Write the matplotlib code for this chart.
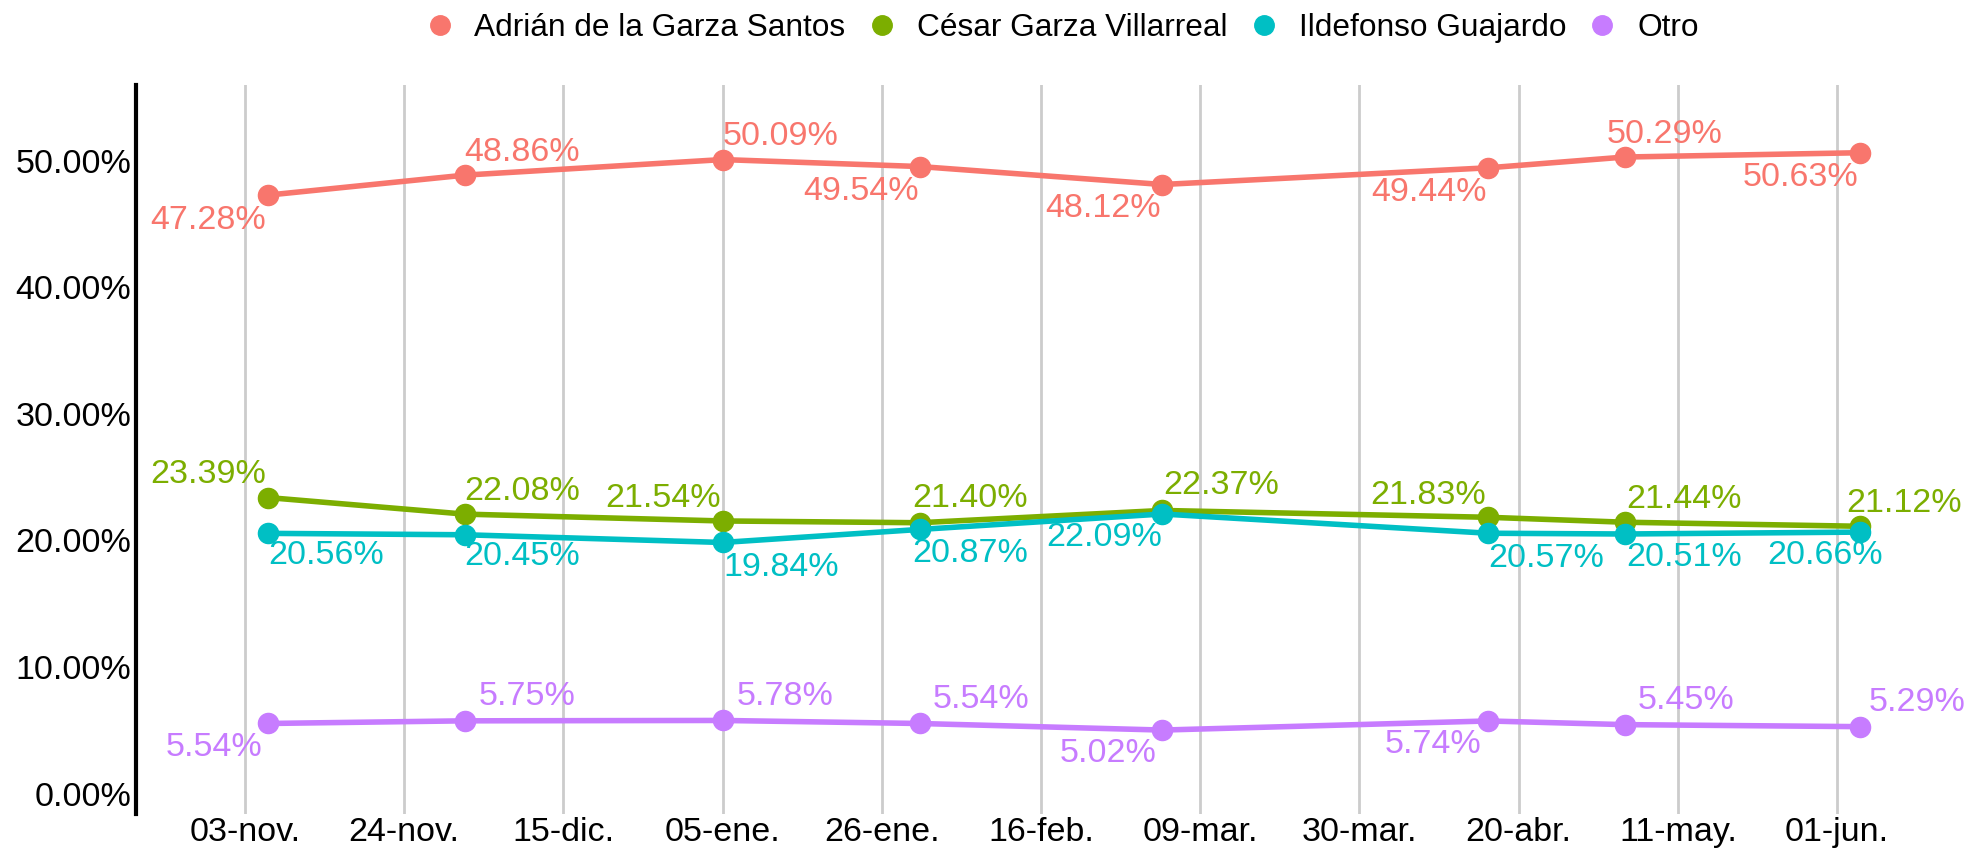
import matplotlib
matplotlib.use("Agg")
import matplotlib.pyplot as plt
from matplotlib.lines import Line2D
import datetime as dt

# ---- data ----
dates = ["2020-11-06", "2020-12-02", "2021-01-05", "2021-01-31",
         "2021-03-04", "2021-04-16", "2021-05-04", "2021-06-04"]
adrian = [47.28, 48.86, 50.09, 49.54, 48.12, 49.44, 50.29, 50.63]
cesar = [23.39, 22.08, 21.54, 21.40, 22.37, 21.83, 21.44, 21.12]
ildefonso = [20.56, 20.45, 19.84, 20.87, 22.09, 20.57, 20.51, 20.66]
otro = [5.54, 5.75, 5.78, 5.54, 5.02, 5.74, 5.45, 5.29]
series_names = ["Adrián de la Garza Santos", "César Garza Villarreal",
                "Ildefonso Guajardo", "Otro"]
tick_dates = ["2020-11-03", "2020-11-24", "2020-12-15", "2021-01-05",
              "2021-01-26", "2021-02-16", "2021-03-09", "2021-03-30",
              "2021-04-20", "2021-05-11", "2021-06-01"]
tick_labels = ["03-nov.", "24-nov.", "15-dic.", "05-ene.", "26-ene.",
               "16-feb.", "09-mar.", "30-mar.", "20-abr.", "11-may.", "01-jun."]
y_ticks = [0, 10, 20, 30, 40, 50]

# ---- style ----
colors = ["#F8766D", "#7CAE00", "#00BFC4", "#C77CFF"]
# label centre offsets (in reference px units, x right, y down)
offsets = [
    [(-47, 20), (46, -18), (46, -18), (-47, 20), (-47, 19), (-47, 20), (32, -18), (-47, 20)],
    [(-47, -18), (46, -18), (-47, -18), (40, -19), (47, -20), (-48, -17), (47, -18), (35, -18)],
    [(47, 18), (46, 17), (47, 20), (40, 19), (-46, 19), (46, 20), (47, 19), (-28, 19)],
    [(-43, 19), (50, -19), (50, -19), (49, -19), (-43, 19), (-44, 19), (49, -19), (46, -19)],
]
plt.rcParams['font.family'] = ['Liberation Sans', 'DejaVu Sans']

W, H, DPI = 1969, 848, 100
fig = plt.figure(figsize=(W / DPI, H / DPI), dpi=DPI)
ax = fig.add_axes([0.0689, 0.0404, 0.9311, 0.8589])

x = [dt.datetime.strptime(d, "%Y-%m-%d") for d in dates]
xt = [dt.datetime.strptime(d, "%Y-%m-%d") for d in tick_dates]
all_series = [adrian, cesar, ildefonso, otro]

for ys, col, offs in zip(all_series, colors, offsets):
    ax.plot(x, ys, color=col, lw=4.0, marker='o', ms=14.5, zorder=3,
            solid_capstyle='round', solid_joinstyle='round')
    for xi, yi, (dx, dy) in zip(x, ys, offs):
        ax.annotate(f"{yi:.2f}%", (xi, yi), xytext=(dx * 0.904, -dy * 0.904),
                    textcoords='offset points', ha='center', va='center',
                    color=col, fontsize=24.5, zorder=4, annotation_clip=False)

x0 = xt[0]
ax.set_xlim(x0 - dt.timedelta(days=14.4), x0 + dt.timedelta(days=227.4))
ax.set_ylim(-1.59, 55.95)
ax.set_xticks(xt)
ax.set_xticklabels(tick_labels)
ax.set_yticks(y_ticks)
ax.set_yticklabels([f"{v:.2f}%" for v in y_ticks])
ax.grid(axis='x', color='#CCCCCC', lw=2.0, zorder=0)
ax.grid(axis='y', visible=False)
ax.tick_params(axis='both', length=0, labelsize=24.5, colors='black')
ax.tick_params(axis='x', pad=2)
ax.tick_params(axis='y', pad=3)
for s in ['top', 'right', 'bottom']:
    ax.spines[s].set_visible(False)
ax.spines['left'].set_linewidth(3)
ax.spines['left'].set_color('black')

handles = [Line2D([0], [0], color=c, marker='o', ms=14, lw=0) for c in colors]
fig.legend(handles, series_names, loc='center', bbox_to_anchor=(0.539, 0.967),
           ncol=4, frameon=False, fontsize=22.8, handlelength=1.0,
           handletextpad=0.6, columnspacing=0.65)

fig.savefig("out.png", dpi=DPI)
